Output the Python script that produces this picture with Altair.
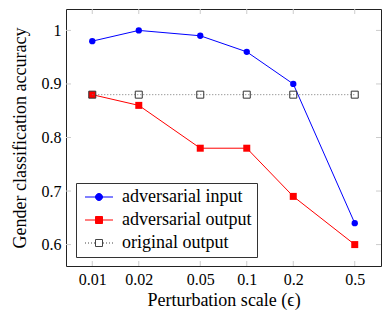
import altair as alt
import pandas as pd

# ---- data ----
eps = [0.01, 0.02, 0.05, 0.1, 0.2, 0.5]
adv_input = [0.98, 1.00, 0.99, 0.96, 0.90, 0.64]
adv_output = [0.88, 0.86, 0.78, 0.78, 0.69, 0.60]
orig_output = [0.88, 0.88, 0.88, 0.88, 0.88, 0.88]
series_names = ["adversarial input", "adversarial output", "original output"]
x_ticks = [0.01, 0.02, 0.05, 0.1, 0.2, 0.5]
y_ticks = [0.6, 0.7, 0.8, 0.9, 1.0]

rows = []
for name, vals in zip(series_names, [adv_input, adv_output, orig_output]):
    for e, v in zip(eps, vals):
        rows.append({"eps": e, "acc": v, "series": name})
df = pd.DataFrame(rows)
xt = pd.DataFrame({"eps": x_ticks})
yt = pd.DataFrame({"acc": y_ticks})

PL, PT, PR, PB = 58, 1, 1, 44
W, H = 374 - PL - PR, 302 - PT - PB
FONT = "Liberation Serif"
BLUE, RED, GRAY = "#0000ff", "#ff0000", "#444444"

xscale = alt.Scale(type="log", domain=[0.00676, 0.7395], nice=False)
yscale = alt.Scale(domain=[0.56, 1.04], nice=False, zero=False)

x_axis = alt.Axis(values=x_ticks, format=".2~f", title="Perturbation scale (ϵ)",
                  ticks=False, domain=False, grid=False, labelPadding=5,
                  labelFontSize=16, titleFontSize=18, titleX=W / 2, titleY=39,
                  titleBaseline="alphabetic", labelFlush=False, labelOverlap=False)
y_axis = alt.Axis(values=y_ticks, format=".1~f", title="Gender classification accuracy",
                  ticks=False, domain=False, grid=False, labelPadding=5,
                  labelFontSize=16, titleFontSize=18, titleX=-37, titleY=H / 2,
                  titleBaseline="bottom", labelFlush=False, labelOverlap=False)

X = alt.X("eps:Q", scale=xscale, axis=x_axis)
Y = alt.Y("acc:Q", scale=yscale, axis=y_axis)

base = alt.Chart(df)
def sel(name):
    return base.transform_filter(alt.datum.series == name)

data_layers = [
    sel(series_names[0]).mark_line(color=BLUE, strokeWidth=1).encode(x=X, y=Y),
    sel(series_names[0]).mark_point(shape="circle", filled=True, size=40, color=BLUE, opacity=1).encode(x=X, y=Y),
    sel(series_names[1]).mark_line(color=RED, strokeWidth=1).encode(x=X, y=Y),
    sel(series_names[1]).mark_point(shape="square", filled=True, size=49, color=RED, opacity=1).encode(x=X, y=Y),
    sel(series_names[2]).mark_line(color="#777777", strokeWidth=1, strokeDash=[1, 2]).encode(x=X, y=Y),
    sel(series_names[2]).mark_point(shape="square", filled=False, size=49, color="#333333",
                                    strokeWidth=1, opacity=1).encode(x=X, y=Y),
]

# inner tick marks (pgfplots style)
TC = "#cccccc"
ticks_layers = [
    alt.Chart(xt).mark_rule(color=TC, strokeWidth=1).encode(x=X, y=alt.value(0), y2=alt.value(5)),
    alt.Chart(xt).mark_rule(color=TC, strokeWidth=1).encode(x=X, y=alt.value(H - 5), y2=alt.value(H)),
    alt.Chart(yt).mark_rule(color=TC, strokeWidth=1).encode(y=Y, x=alt.value(0), x2=alt.value(5)),
    alt.Chart(yt).mark_rule(color=TC, strokeWidth=1).encode(y=Y, x=alt.value(W - 5), x2=alt.value(W)),
]

# legend symbols: line + marker as custom paths (unit = 5px)
p_circle = "M-1,0L4.6,0M2.5,0A0.7,0.7,0,1,1,1.1,0A0.7,0.7,0,1,1,2.5,0Z"
p_square = "M-1,0L4.6,0M1.1,-0.7L2.5,-0.7L2.5,0.7L1.1,0.7Z"
segs = []
s = -1.0
while s < 4.6:
    if not (0.9 < s < 2.6):
        segs.append(f"M{s:.2f},0L{s + 0.2:.2f},0")
    s += 0.6
p_hollow = "".join(segs) + "M1.1,-0.7L2.5,-0.7L2.5,0.7L1.1,0.7Z"

leg = alt.Legend(title=None, orient="none", legendX=10, legendY=H - 9 - 74,
                 padding=5, rowPadding=5, labelFont=FONT, labelFontSize=18,
                 labelColor="black", labelOffset=23, labelLimit=400,
                 symbolSize=100, symbolStrokeWidth=1,
                 strokeColor="#333333", fillColor="white")

legend_layer = base.transform_filter("false").mark_point(size=100, opacity=1, strokeWidth=1).encode(
    x=X, y=Y,
    shape=alt.Shape("series:N", scale=alt.Scale(domain=series_names, range=[p_circle, p_square, p_hollow]), legend=leg),
    fill=alt.Fill("series:N", scale=alt.Scale(domain=series_names, range=[BLUE, RED, "#ffffff"]), legend=leg),
    stroke=alt.Stroke("series:N", scale=alt.Scale(domain=series_names, range=[BLUE, RED, GRAY]), legend=leg),
)

chart = alt.layer(*data_layers, *ticks_layers, legend_layer).properties(
    width=W, height=H,
    autosize=alt.AutoSizeParams(type="none"),
    padding={"left": PL, "top": PT, "right": PR, "bottom": PB},
    background="white",
).configure_axis(
    labelFont=FONT, titleFont=FONT, labelColor="black", titleColor="black",
    titleFontWeight="normal",
).configure_view(stroke="#222222", strokeWidth=1)

chart.save("out.html", embed_options={"renderer": "svg", "actions": False})
